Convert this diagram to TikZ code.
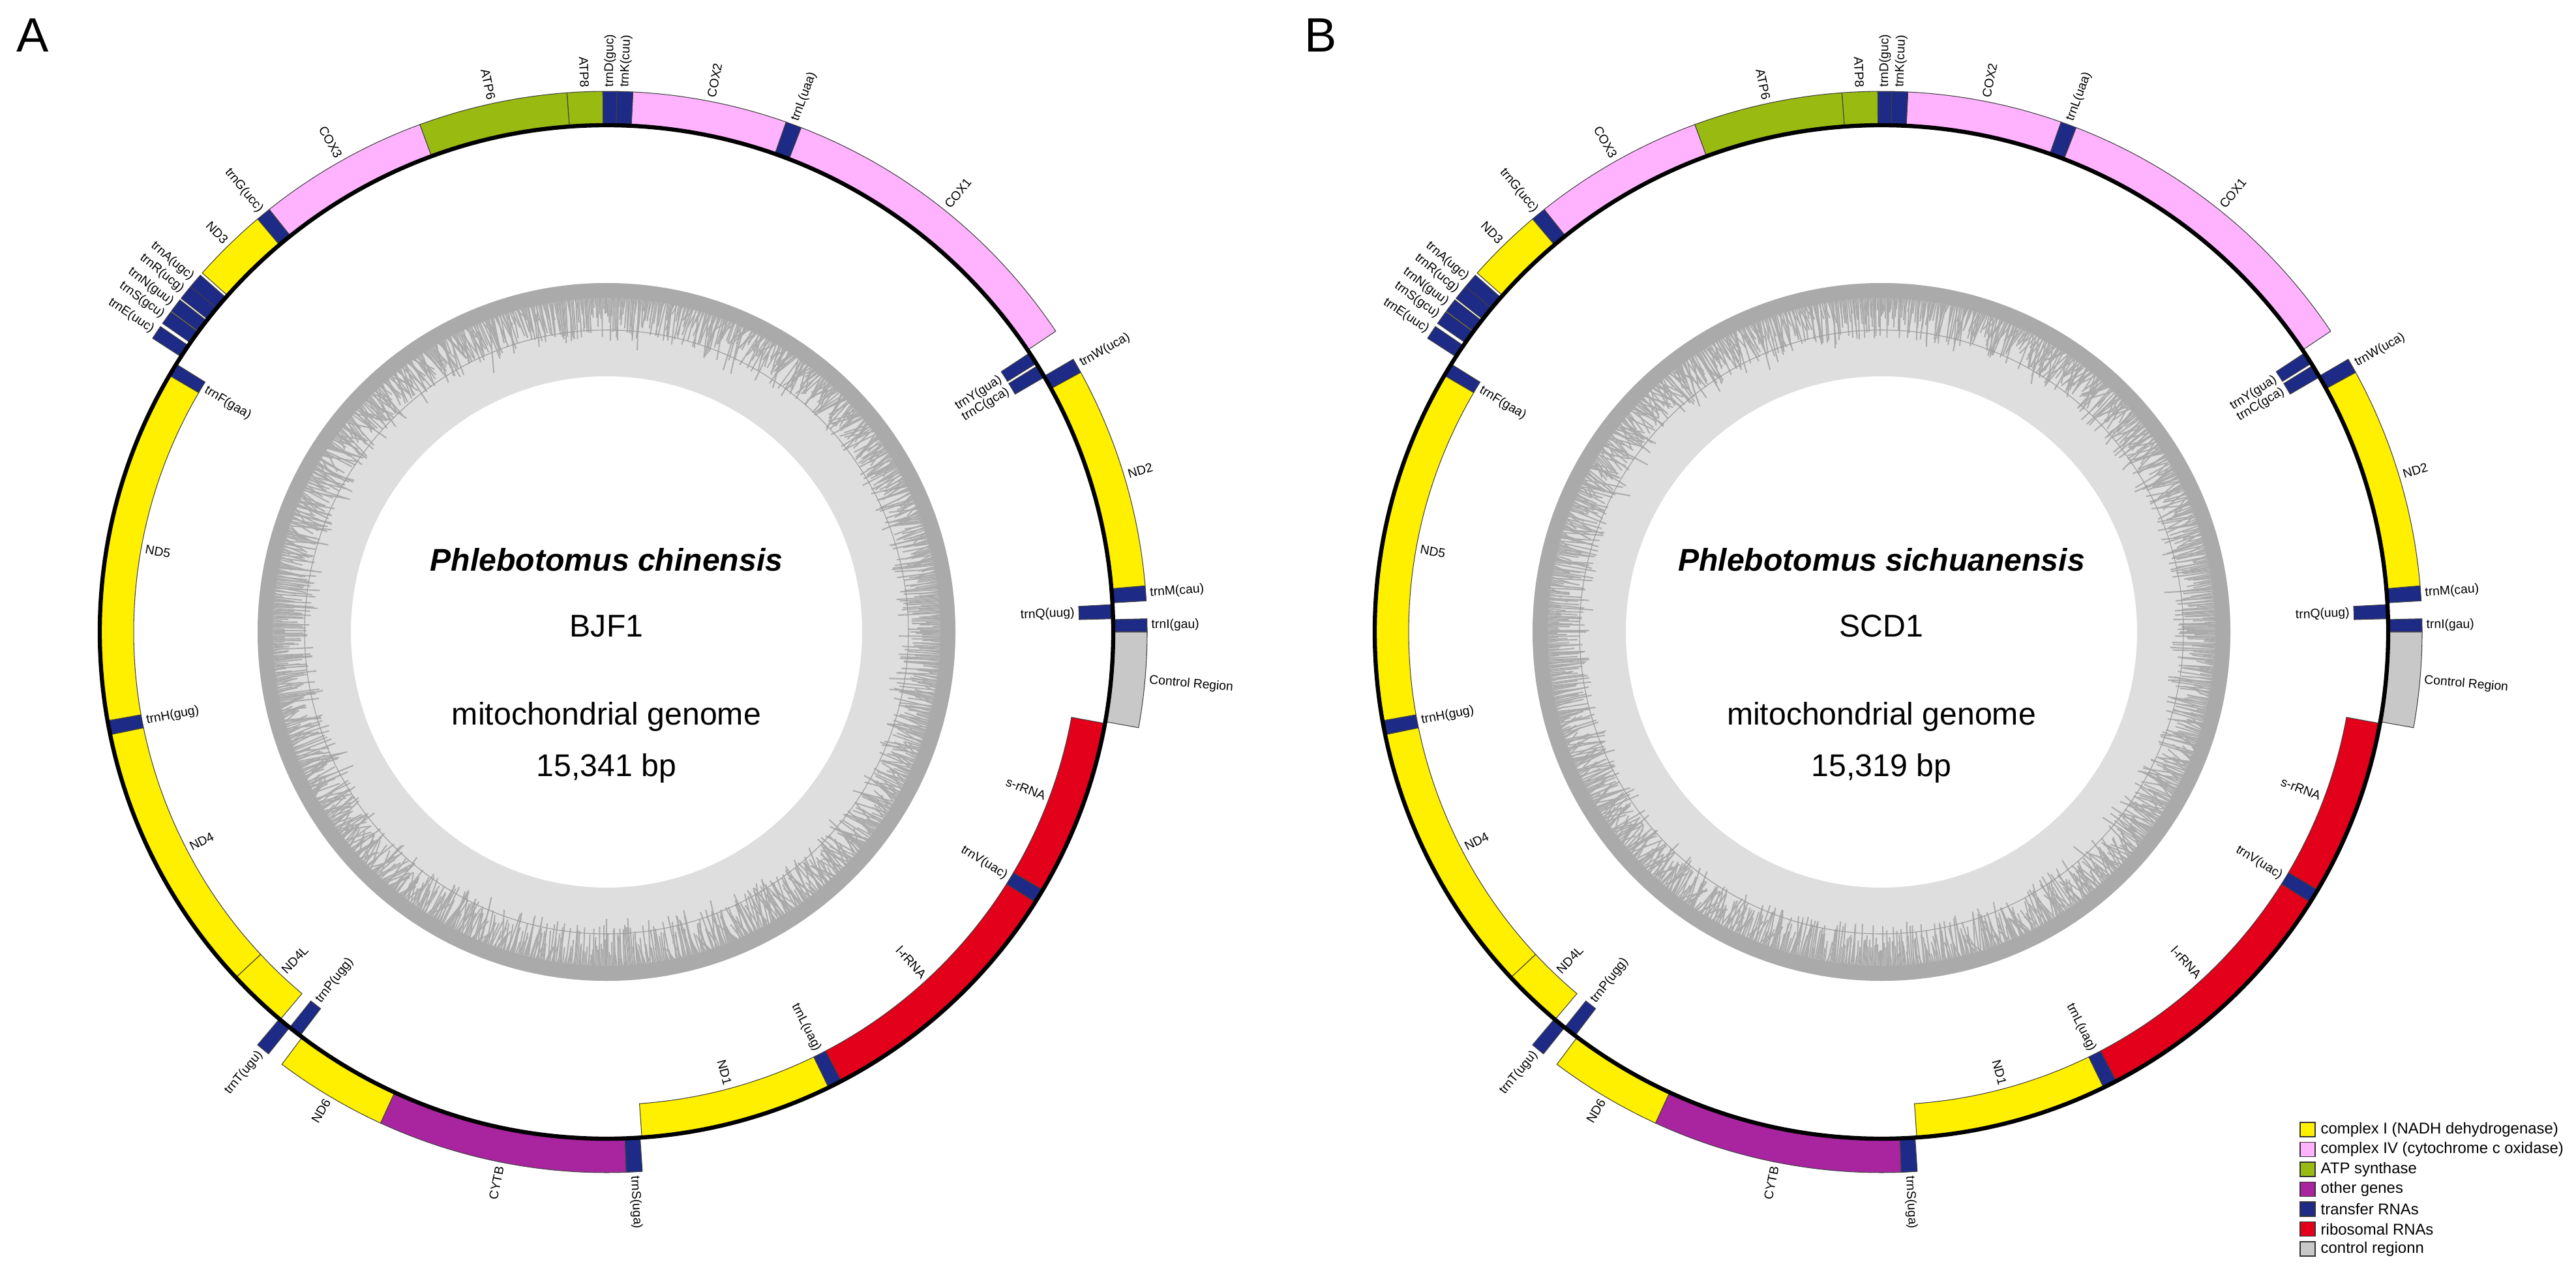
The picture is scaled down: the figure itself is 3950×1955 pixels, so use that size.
\documentclass[tikz,border=0pt]{standalone}
\usepackage{fontspec}
\setmainfont{Liberation Sans}
\definecolor{cI}{RGB}{255,240,0}
\definecolor{cIV}{RGB}{255,179,255}
\definecolor{atp}{RGB}{153,187,17}
\definecolor{oth}{RGB}{169,37,159}
\definecolor{trna}{RGB}{29,42,134}
\definecolor{rrna}{RGB}{226,0,26}
\definecolor{ctrl}{RGB}{200,200,200}
\definecolor{gclight}{RGB}{222,222,222}
\definecolor{gcdark}{RGB}{170,170,170}
\tikzset{
  boxline/.style={draw=black!75, line width=0.3pt},
  lab/.style={inner sep=0pt, font=\fontsize{5.5}{6.5}\selectfont},
  ctr/.style={inner sep=0pt, font=\fontsize{13.7}{16}\selectfont},
  leg/.style={inner sep=0pt, font=\fontsize{6.8}{8}\selectfont},
  panel/.style={inner sep=0pt, font=\fontsize{21}{24}\selectfont, anchor=base west},
  gcbar/.style={gcdark, line width=0.55pt}
}
\newcommand{\gmap}[5]{%
\begin{scope}[shift={#2}]
  \fill[gclight, even odd rule] (0,0) circle[radius=535] (0,0) circle[radius=392];
  \fill[gcdark, even odd rule] (0,0) circle[radius=535] (0,0) circle[radius=512];
  \foreach \i in {0,...,1439} {
    \draw[gcbar] ({\i/4}:514) -- ({\i/4}:{510-8-52*rnd-30*rnd*rnd*rnd});
  }
  \draw[black!40, line width=0.3pt] (0,0) circle[radius=463];
  % outside (J strand) genes
  \foreach \a/\b/\c/\m/\lbl [count=\k] in {
    0.0/1.4/trna/0.7/trnI(gau),
    3.3/4.9/trna/4.1/trnM(cau),
    4.9/28.7/cI/16.8/ND2,
    28.7/30.3/trna/29.5/trnW(uca),
    33.8/68.9/cIV/51.3/COX1,
    68.9/70.6/trna/69.75/trnL(uaa),
    70.6/87.2/cIV/78.9/COX2,
    87.2/88.9/trna/88.05/trnK(cuu),
    88.9/90.4/trna/89.65/trnD(guc),
    90.4/94.2/atp/92.3/ATP8,
    94.2/110.2/atp/102.2/ATP6,
    110.2/128.6/cIV/119.4/COX3,
    128.6/130.2/trna/129.4/trnG(ucc),
    130.2/138.4/cI/134.3/ND3,
    138.7/140.3/trna/139.5/trnA(ugc),
    140.3/141.9/trna/141.1/trnR(ucg),
    142.1/143.6/trna/142.85/trnN(guu),
    143.7/145.2/trna/144.45/trnS(gcu),
    145.6/147.1/trna/146.35/trnE(uuc),
    229.8/231.3/trna/230.55/trnT(ugu),
    233.1/245.3/cI/239.2/ND6,
    245.3/272.1/oth/258.7/CYTB,
    272.1/273.8/trna/272.95/trnS(uga),
    349.8/360/ctrl/354.9/Control Region} {
    \filldraw[fill=\c, boxline] (\a:777) -- (\a:829) arc[start angle=\a, end angle=\b, radius=829] -- (\b:777) arc[start angle=\b, end angle=\a, radius=777] -- cycle;
    \pgfmathtruncatemacro\rh{cos(\m)>0}
    \ifnum\rh=1
      \node[lab, anchor=west, rotate=\m] (#1o\k) at (\m:835) {\lbl};
    \else
      \node[lab, anchor=east, rotate=\m-180] (#1o\k) at (\m:835) {\lbl};
    \fi
  }
  % inside (N strand) genes
  \foreach \a/\b/\c/\m/\lbl [count=\k] in {
    1.5/3.1/trna/2.3/trnQ(uug),
    30.2/31.7/trna/30.95/trnC(gca),
    32.0/33.4/trna/32.7/trnY(gua),
    148.1/149.6/trna/148.85/trnF(gaa),
    149.6/190.1/cI/169.85/ND5,
    190.1/191.7/trna/190.9/trnH(gug),
    191.7/223.0/cI/207.35/ND4,
    223.0/229.9/cI/226.45/ND4L,
    231.3/232.8/trna/232.05/trnP(ugg),
    274.0/296.0/cI/285/ND1,
    296.0/297.6/trna/296.8/trnL(uag),
    297.6/327.8/rrna/312.7/l-rRNA,
    327.8/329.4/trna/328.6/trnV(uac),
    329.4/349.6/rrna/339.5/s-rRNA} {
    \filldraw[fill=\c, boxline] (\a:725) -- (\a:777) arc[start angle=\a, end angle=\b, radius=777] -- (\b:725) arc[start angle=\b, end angle=\a, radius=725] -- cycle;
    \pgfmathtruncatemacro\rh{cos(\m)>0}
    \ifnum\rh=1
      \node[lab, anchor=east, rotate=\m] (#1i\k) at (\m:719) {\lbl};
    \else
      \node[lab, anchor=west, rotate=\m-180] (#1i\k) at (\m:719) {\lbl};
    \fi
  }
  \draw[black, line width=1.8pt] (0,0) circle[radius=777];
  \node[ctr, font=\fontsize{13.7}{16}\selectfont\bfseries\itshape] (#1sp) at (0,111) {#3};
  \node[ctr] (#1id) at (0,9) {#4};
  \node[ctr] (#1mt) at (0,-130) {mitochondrial genome};
  \node[ctr] (#1bp) at (0,-209) {#5};
\end{scope}}
\begin{document}
\begin{tikzpicture}[x=0.01cm,y=0.01cm]
\useasboundingbox (0,0) rectangle (3950,-1955);
\pgfmathsetseed{7}
\gmap{L}{(930,-969)}{Phlebotomus chinensis}{BJF1}{15,341 bp}
\gmap{R}{(2885,-969)}{Phlebotomus sichuanensis}{SCD1}{15,319 bp}
\node[panel] (pA) at (25,-80) {A};
\node[panel] (pB) at (2000,-80) {B};
\foreach \c/\lbl [count=\k] in {cI/complex I (NADH dehydrogenase), cIV/complex IV (cytochrome c oxidase), atp/ATP synthase, oth/other genes, trna/transfer RNAs, rrna/ribosomal RNAs, ctrl/control regionn} {
  \pgfmathsetmacro\yy{-1732-30.5*(\k-1)}
  \filldraw[fill=\c, draw=black!80, line width=0.45pt] (3527,\yy+11) rectangle (3550,\yy-11);
  \node[leg, anchor=west] (leg\k) at (3558,\yy) {\lbl};
}
\end{tikzpicture}
\end{document}
